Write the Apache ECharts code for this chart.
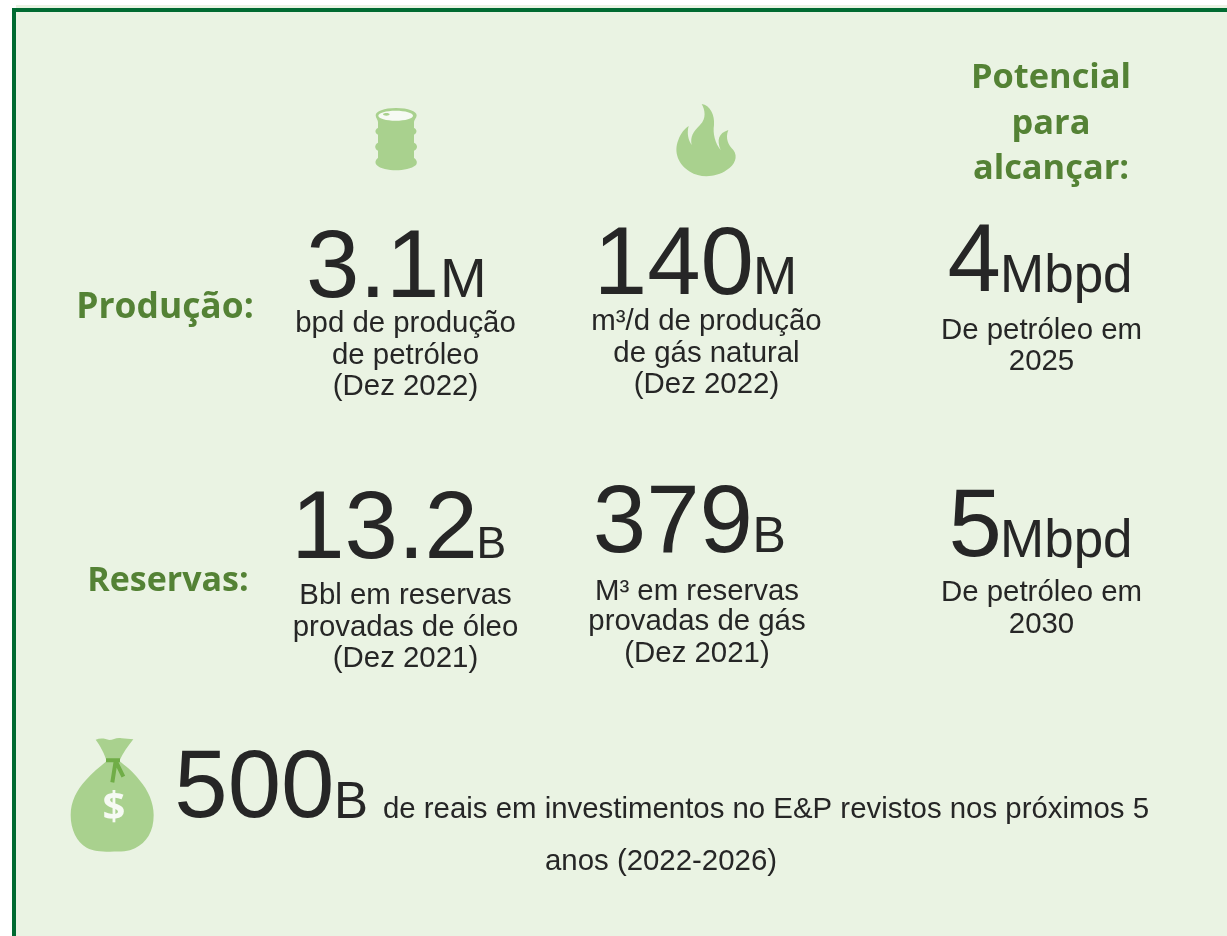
<!DOCTYPE html>
<html>
<head>
<meta charset="utf-8">
<style>
  html, body { margin: 0; padding: 0; background: #fff; }
  #chart { width: 1227px; height: 936px; }
</style>
<script src="https://cdn.jsdelivr.net/npm/echarts@6/dist/echarts.min.js"></script>
</head>
<body>
<div id="chart"></div>
<script>
const rowLabels = ["Produção:", "Reservas:"];
const headerLines = ["Potencial", "para", "alcançar:"];
const metricValues = ["3.1", "140", "4", "13.2", "379", "5"];
const metricUnits = ["M", "M", "Mbpd", "B", "B", "Mbpd"];
const metricCaptions = [
  ["bpd de produção", "de petróleo", "(Dez 2022)"],
  ["m³/d de produção", "de gás natural", "(Dez 2022)"],
  ["De petróleo em", "2025"],
  ["Bbl em reservas", "provadas de óleo", "(Dez 2021)"],
  ["M³ em reservas", "provadas de gás", "(Dez 2021)"],
  ["De petróleo em", "2030"],
];
const investValue = "500";
const investUnit = "B";
const investLines = ["de reais em investimentos no E&P revistos nos próximos 5", "anos (2022-2026)"];

// layout only: numEnd = right edge of number, unitX = left edge of unit, base/caps = baselines
const metricLayout = [
  { numEnd: 439.5, unitX: 440, unitSize: 56, base: 298, capX: 405.5, caps: [332.5, 364, 395.5] },
  { numEnd: 754, unitX: 753, unitSize: 53, base: 295, capX: 706.5, caps: [330, 362, 393.5] },
  { numEnd: 1001, unitX: 1000, unitSize: 53, base: 292.5, capX: 1041.5, caps: [339, 370.5] },
  { numEnd: 478, unitX: 476.5, unitSize: 44.5, base: 559, capX: 405.5, caps: [604, 636, 667.5] },
  { numEnd: 753, unitX: 752.5, unitSize: 50, base: 553, capX: 697, caps: [600, 630.5, 662] },
  { numEnd: 1002, unitX: 1000, unitSize: 53, base: 557.5, capX: 1041.5, caps: [601.5, 633] },
];

const SANS = "'Liberation Sans', Arial, sans-serif";
const HEAD = "'Open Sans', sans-serif";
const DARK = "#262626";
const GREEN = "#548235";
const ICON = "#A9D18E";
const TIE = "#70AD47";
const CAPTION_SIZE = 29.4;
const NUMBER_SIZE = 96;

// y is the text baseline, converted for the "bottom" anchor
const sansText = (text, x, y, size, align) => ({
  type: "text",
  x,
  y: y + size * 0.212,
  style: {
    text,
    fontFamily: SANS,
    fontSize: size,
    fill: DARK,
    align,
    verticalAlign: "bottom",
  },
});

const headText = (text, x, y, size) => ({
  type: "text",
  x,
  y: y - size * 0.28,
  style: {
    text,
    fontFamily: HEAD,
    fontWeight: "bold",
    fontSize: size,
    fill: GREEN,
    align: "center",
    verticalAlign: "middle",
  },
});

const registerIcon = (name, pathData) =>
  echarts.graphic.registerShape(name, echarts.graphic.extendPath(pathData, {}));

registerIcon("barrelIcon", "M168,54 C205,54 230,64 230,76 C230,84 222,90 222,96 L222,114 C232,118 232,130 222,134 L222,158 C234,164 234,176 222,182 L222,204 C232,210 232,220 228,225 C215,236 190,241 168,241 C146,241 120,236 110,225 C105,220 105,210 114,204 L114,182 C103,176 103,164 114,158 L114,134 C104,130 104,118 114,114 L114,96 C114,90 107,84 107,76 C107,64 132,54 168,54 Z");
registerIcon("flameIcon", "M1085,42 C1110,45 1125,75 1122,105 C1118,130 1125,160 1142,180 C1130,150 1135,130 1165,120 C1155,145 1165,165 1180,180 C1195,200 1185,225 1160,240 C1130,262 1080,265 1050,245 C1015,225 1000,185 1015,150 C1022,130 1035,115 1046,108 C1040,130 1045,150 1055,165 C1050,140 1060,125 1080,105 C1100,85 1095,60 1085,42 Z");
registerIcon("bagIcon", "M137,44 C150,38 165,40 178,45 C190,45 200,36 215,40 L250,43 C235,62 218,85 208,108 C225,122 250,140 268,165 C295,195 311,235 311,270 C311,320 290,352 255,370 C235,380 215,380 180,380 C150,380 130,378 110,368 C80,350 62,315 62,270 C62,230 80,195 108,165 C125,145 150,125 170,108 C165,90 150,60 137,44 Z");
registerIcon("bagTie", "M168,106 L210,106 M197,108 L187,172 M197,108 L220,155");

const elements = [
  { type: "rect", shape: { x: 16, y: 5, width: 1211, height: 931 }, style: { fill: "#EAF3E3" } },
  { type: "rect", shape: { x: 14, y: 10, width: 1240, height: 960 }, style: { fill: "none", stroke: "#006A31", lineWidth: 4 } },
];

headerLines.forEach((line, i) => elements.push(headText(line, 1051, 88.3 + i * 45.3, 34.4)));
elements.push(headText(rowLabels[0], 165, 318, 35.4));
elements.push(headText(rowLabels[1], 168, 590.5, 34));

metricValues.forEach((value, i) => {
  const pos = metricLayout[i];
  elements.push(sansText(value, pos.numEnd, pos.base, NUMBER_SIZE, "right"));
  elements.push(sansText(metricUnits[i], pos.unitX, pos.base, pos.unitSize, "left"));
  metricCaptions[i].forEach((line, j) => {
    elements.push(sansText(line, pos.capX, pos.caps[j], CAPTION_SIZE, "center"));
  });
});

elements.push(sansText(investValue, 334.5, 818.3, NUMBER_SIZE, "right"));
elements.push(sansText(investUnit, 334, 818.3, 51, "left"));
elements.push(sansText(investLines[0], 766, 818.3, CAPTION_SIZE, "center"));
elements.push(sansText(investLines[1], 661, 870, CAPTION_SIZE, "center"));

// icon paths were traced in 3x coordinates
const barrel = { x: 340, y: 90, scaleX: 1 / 3, scaleY: 1 / 3 };
elements.push({ type: "barrelIcon", ...barrel, style: { fill: ICON } });
elements.push({ type: "ellipse", ...barrel, shape: { cx: 167, cy: 77, rx: 52, ry: 15 }, style: { fill: "#F6FAF3" } });
elements.push({ type: "ellipse", ...barrel, shape: { cx: 139, cy: 73, rx: 10, ry: 4 }, style: { fill: ICON } });
elements.push({ type: "flameIcon", ...barrel, style: { fill: ICON } });

const bag = { x: 50, y: 725, scaleX: 1 / 3, scaleY: 1 / 3 };
elements.push({ type: "bagIcon", ...bag, style: { fill: ICON } });
elements.push({ type: "bagTie", ...bag, style: { fill: "none", stroke: TIE, lineWidth: 12 } });
elements.push({
  type: "text",
  x: 114,
  y: 809,
  style: {
    text: "$",
    fontFamily: HEAD,
    fontWeight: "bold",
    fontSize: 40,
    fill: "#F6FAF3",
    align: "center",
    verticalAlign: "middle",
  },
});

const chart = echarts.init(document.getElementById("chart"), null, { renderer: "canvas" });
chart.setOption({
  animation: false,
  backgroundColor: "#ffffff",
  graphic: { elements },
});
</script>
</body>
</html>
